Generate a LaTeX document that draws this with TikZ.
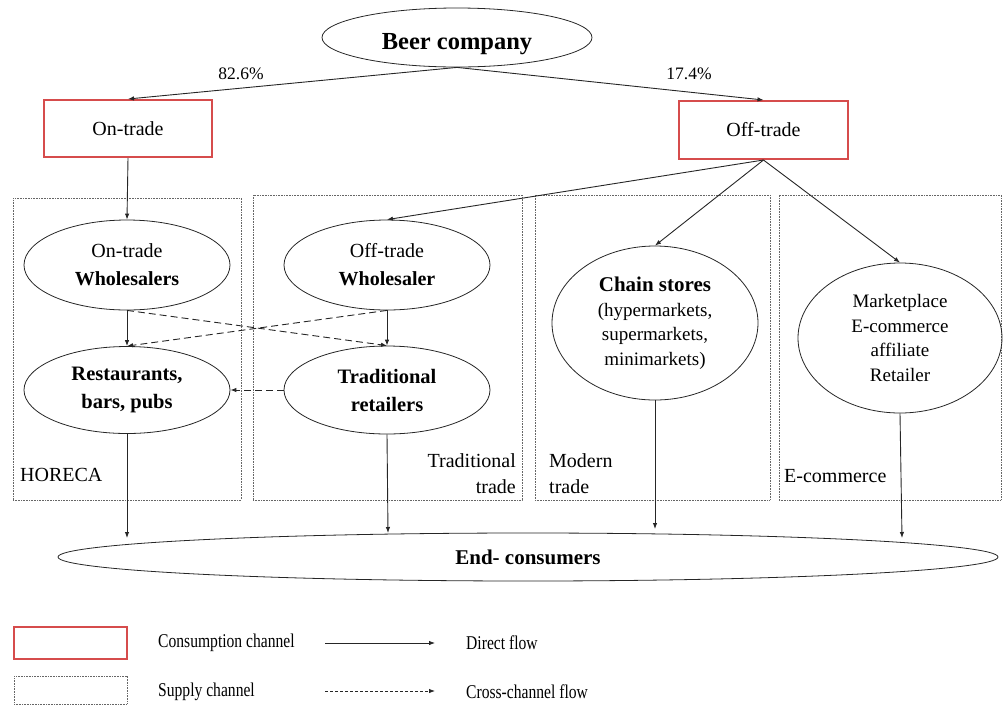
\documentclass[tikz,border=0pt]{standalone}
\usepackage{graphicx}
\usepackage{fontspec}
\setmainfont{Liberation Serif}
\usetikzlibrary{shapes.geometric,arrows.meta}
\definecolor{chred}{RGB}{214,76,76}
\begin{document}
\begin{tikzpicture}[x=1pt,y=-1pt,
  flow/.style={-{Latex[length=6pt,width=4.5pt]},line width=0.9pt,draw=black!85},
  cross/.style={flow,dash pattern=on 7pt off 4pt},
  oval/.style={draw=black!85,ellipse,inner sep=0pt,line width=0.8pt,align=center,font=\fontsize{20}{28}\selectfont},
  consbox/.style={draw=chred,line width=2pt,inner sep=0pt,font=\fontsize{20}{24}\selectfont},
  supbox/.style={draw=black!60,dash pattern=on 0.8pt off 0.8pt,line width=0.7pt,inner sep=0pt},
  region/.style={inner sep=0pt,align=left,font=\fontsize{20}{26}\selectfont},
  pct/.style={inner sep=0pt,font=\fontsize{17.5}{20}\selectfont},
  legtext/.style={inner sep=0pt,anchor=west,font=\fontsize{19.5}{22}\selectfont}
]
\useasboundingbox (0,0) rectangle (1004,705);

% supply channel regions
\node[supbox,minimum width=228pt,minimum height=302pt] (horeca) at (127,349) {};
\node[supbox,minimum width=269pt,minimum height=305pt] (tradbox) at (387.5,347.5) {};
\node[supbox,minimum width=235pt,minimum height=305pt] (modbox) at (652.5,347.5) {};
\node[supbox,minimum width=222pt,minimum height=305pt] (ecbox) at (890,347.5) {};

\node[region,anchor=west] (lhoreca) at (20,475) {HORECA};
\node[region,anchor=east,align=right] (ltrad) at (516,474) {Traditional\\trade};
\node[region,anchor=west] (lmod) at (549,474) {Modern\\trade};
\node[region,anchor=west] (lec) at (784,476) {E-commerce};

% nodes
\node[oval,minimum width=270pt,minimum height=59pt,text height=23pt,text depth=0pt,font=\bfseries\fontsize{24.5}{28}\selectfont] (beer) at (457,37.5) {Beer company};
\node[consbox,minimum width=168pt,minimum height=57pt] (ontrade) at (128,128.5) {On-trade};
\node[consbox,minimum width=169pt,minimum height=58pt] (offtrade) at (763.5,130) {Off-trade};

\node[oval,minimum width=206pt,minimum height=90pt] (onw) at (127,265) {On-trade\\\textbf{Wholesalers}};
\node[oval,minimum width=206pt,minimum height=90pt] (offw) at (387,265) {Off-trade\\\textbf{Wholesaler}};
\node[oval,minimum width=206pt,minimum height=87pt,font=\bfseries\fontsize{20.5}{28}\selectfont] (rest) at (127,390) {Restaurants,\\bars, pubs};
\node[oval,minimum width=206pt,minimum height=88pt,font=\bfseries\fontsize{20.5}{28}\selectfont] (trad) at (387,390) {Traditional\\retailers};
\node[oval,minimum width=206pt,minimum height=154pt,font=\fontsize{19}{24.5}\selectfont] (chain) at (655,323) {\textbf{\fontsize{21}{24.5}\selectfont Chain stores}\\(hypermarkets,\\supermarkets,\\minimarkets)};
\node[oval,minimum width=204pt,minimum height=150pt,font=\fontsize{19}{24.5}\selectfont] (market) at (900,338) {Marketplace\\E-commerce\\affiliate\\Retailer};
\node[oval,minimum width=940pt,minimum height=48pt,font=\bfseries\fontsize{21}{24}\selectfont] (end) at (528,557) {End- consumers};

% percentages
\node[pct] (p1) at (241,74) {82.6\%};
\node[pct] (p2) at (689,74) {17.4\%};

% direct flows
\draw[flow] (beer.south) -- (ontrade.north);
\draw[flow] (beer.south) -- (offtrade.north);
\draw[flow] (ontrade.south) -- (onw.north);
\draw[flow] (offtrade.south) -- (offw.north);
\draw[flow] (offtrade.south) -- (chain.north);
\draw[flow] (offtrade.south) -- (market.north);
\draw[flow] (onw.south) -- (rest.north);
\draw[flow] (offw.south) -- (trad.north);

% cross-channel flows
\draw[cross] (onw.south) -- (trad.north);
\draw[cross] (offw.south) -- (rest.north);
\draw[cross] (trad.west) -- (rest.east);

% to end consumers
\coordinate (e1) at (127,538);
\coordinate (e2) at (388,533);
\coordinate (e3) at (655,529);
\coordinate (e4) at (902,538);
\draw[flow] (rest.south) -- (e1);
\draw[flow] (trad.south) -- (e2);
\draw[flow] (chain.south) -- (e3);
\draw[flow] (market.south) -- (e4);

% legend
\node[consbox,minimum width=113pt,minimum height=32pt] (legcons) at (70.5,643) {};
\node[supbox,minimum width=113pt,minimum height=28pt] (legsup) at (70.5,690) {};
\node[legtext] (tcons) at (158,643) {\scalebox{0.8}[1]{Consumption channel}};
\node[legtext] (tsup) at (158,692) {\scalebox{0.8}[1]{Supply channel}};
\coordinate (la1) at (325,643);
\coordinate (la2) at (435,643);
\coordinate (lb1) at (325,691);
\coordinate (lb2) at (435,691);
\draw[flow,line width=0.8pt] (la1) -- (la2);
\draw[flow,line width=0.8pt,dash pattern=on 3pt off 2pt] (lb1) -- (lb2);
\node[legtext] (tdirect) at (466,643) {\scalebox{0.8}[1]{Direct flow}};
\node[legtext] (tcross) at (466,692) {\scalebox{0.8}[1]{Cross-channel flow}};
\end{tikzpicture}
\end{document}
